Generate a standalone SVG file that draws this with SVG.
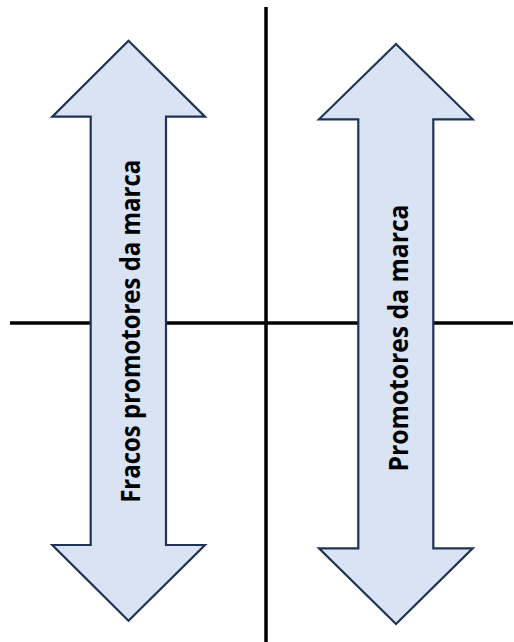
<svg xmlns="http://www.w3.org/2000/svg" width="514" height="642" viewBox="0 0 514 642">
  <style>
    .axis { stroke: #000000; stroke-width: 3.5; fill: none; }
    .arrow { fill: #DAE3F3; stroke: #1F3455; stroke-width: 2.2; stroke-linejoin: miter; }
    .label { font-family: "Open Sans", Lato, "Liberation Sans", sans-serif; font-weight: 700; font-size: 26px; fill: #000000; text-anchor: middle; }
  </style>
  <rect width="514" height="642" fill="#ffffff"/>

  <!-- quadrant axes -->
  <g id="connectors">
    <line class="axis" x1="10" y1="323" x2="513" y2="323"/>
    <line class="axis" x1="266" y1="7" x2="266" y2="642"/>
  </g>

  <!-- left double arrow -->
  <g id="weak-promoters">
    <polygon class="arrow" points="128.5,40.7 205,116.7 166,116.7 166,545 205,545 128.5,620.7 52.3,545 90.7,545 90.7,116.7 52.3,116.7"/>
    <text class="label" x="140" y="331.3" transform="rotate(-90 140 331.3)" textLength="343" lengthAdjust="spacingAndGlyphs">Fracos promotores da marca</text>
  </g>

  <!-- right double arrow -->
  <g id="promoters">
    <polygon class="arrow" points="396,44 472.7,119.3 433.3,119.3 433.3,548.3 472.7,548.3 396,624 319,548.3 358.3,548.3 358.3,119.3 319,119.3"/>
    <text class="label" x="407.5" y="338" transform="rotate(-90 407.5 338)" textLength="267" lengthAdjust="spacingAndGlyphs">Promotores da marca</text>
  </g>
</svg>
